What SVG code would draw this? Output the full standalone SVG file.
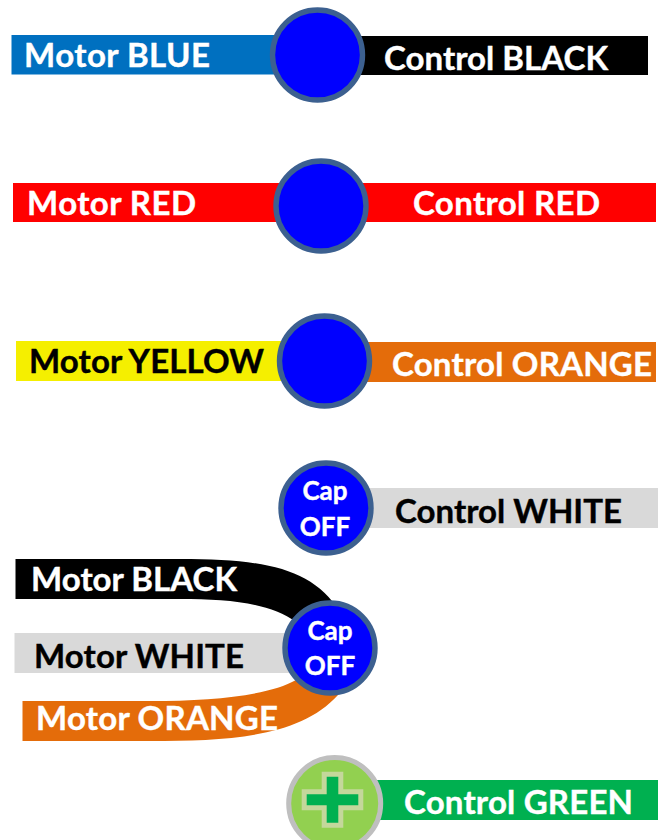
<svg xmlns="http://www.w3.org/2000/svg" width="667" height="840" viewBox="0 0 667 840">
<style>
text{font-family:"Lato","Open Sans","Liberation Sans",sans-serif;font-weight:700;font-size:33px}
.w{fill:#fff;stroke:#fff;stroke-width:.4}.k{fill:#000;stroke:#000;stroke-width:.4}
.c{fill:#0000ff;stroke:#3c6090;stroke-width:5.4}
.s{font-size:26px;text-anchor:middle}
</style>
<rect width="667" height="840" fill="#fff"/>
<g id="connectors">
<rect x="11.5" y="35" width="270" height="39.5" fill="#0070c0"/>
<rect x="350" y="36" width="298" height="39" fill="#000"/>
<rect x="13" y="183" width="300" height="39" fill="#ff0000"/>
<rect x="340" y="183" width="316" height="39" fill="#ff0000"/>
<rect x="16" y="341" width="290" height="40" fill="#f5ef00"/>
<rect x="350" y="342" width="306" height="40" fill="#e46c0a"/>
<rect x="350" y="488" width="308" height="40" fill="#d9d9d9"/>
<path d="M15.500 559H180C265 559 312 568 340 612L296 622C270 603 230 599 180 599H15.500Z" fill="#000"/>
<rect x="14.500" y="633" width="285" height="40" fill="#d9d9d9"/>
<path d="M22.500 701H150C215 701 270 695 296 680L338 695C300 737 230 741 150 741H22.500Z" fill="#e46c0a"/>
<rect x="360" y="780" width="298" height="40" fill="#00b050"/>
</g>
<g id="n1"><circle class="c" cx="317.500" cy="55" r="45"/><text class="w" x="24" y="67" textLength="186">Motor BLUE</text><text class="w" x="384" y="70" textLength="224">Control BLACK</text></g>
<g id="n2"><circle class="c" cx="321" cy="206" r="45"/><text class="w" x="27" y="215" textLength="169">Motor RED</text><text class="w" x="413" y="215" textLength="187">Control RED</text></g>
<g id="n3"><circle class="c" cx="324.500" cy="361" r="45"/><text class="k" x="29" y="373" textLength="235">Motor YELLOW</text><text class="w" x="392" y="376" textLength="260">Control ORANGE</text></g>
<g id="n4"><circle class="c" cx="326" cy="508" r="45"/><text class="w s" x="325" y="500">Cap</text><text class="w s" x="325" y="536">OFF</text><text class="k" x="395" y="523" textLength="227">Control WHITE</text></g>
<g id="n5"><circle class="c" cx="330" cy="648" r="45"/><text class="w s" x="330" y="640">Cap</text><text class="w s" x="330" y="675">OFF</text><text class="w" x="31" y="591" textLength="206">Motor BLACK</text><text class="k" x="34" y="668" textLength="210">Motor WHITE</text><text class="w" x="36" y="730" textLength="242">Motor ORANGE</text></g>
<g id="n6"><circle cx="334.700" cy="803.500" r="46" fill="#92d050" stroke="#bfbfbf" stroke-width="5"/><path d="M324.200 774.200H340.800V791.800H360.800V807.800H340.800V825.200H324.200V807.800H304.200V791.800H324.200Z" fill="#00b050" stroke="#c4d79b" stroke-width="5"/><text class="w" x="404" y="814" textLength="229">Control GREEN</text></g>
</svg>
